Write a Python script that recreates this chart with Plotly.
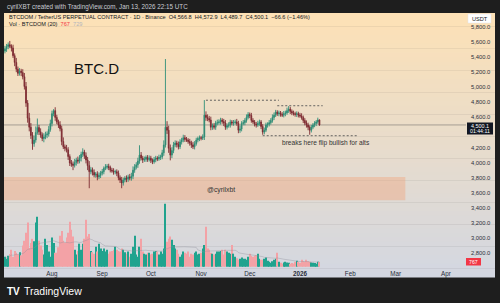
import pandas as pd
import plotly.graph_objects as go

# ---------------- data ----------------
dates = pd.date_range("2025-07-03", "2026-01-13", freq="D")

first_open = 5480
close = [
    5510, 5540, 5565, 5545, 5520, 5420, 5330, 5240, 5185, 5215,
    5195, 5140, 5010, 4790, 4590, 4470, 4360, 4250, 4300, 4400,
    4465, 4410, 4370, 4320, 4340, 4370, 4380, 4440, 4520, 4650,
    4690, 4600, 4540, 4500, 4450, 4280, 4210, 4190, 4170, 4080,
    3995, 3980, 3965, 4000, 4035, 4020, 4060, 4110, 4140, 4090,
    4035, 3960, 3880, 3905, 3870, 3835, 3850, 3810, 3830, 3860,
    3880, 3925, 3940, 3950, 3935, 3900, 3890, 3875, 3880, 3860,
    3800, 3770, 3730, 3770, 3795, 3780, 3810, 3795, 3820, 3900,
    3940, 3970, 4020, 4100, 4060, 4035, 4045, 4070, 4040, 4060,
    4030, 4010, 4040, 4060, 4050, 4070, 4075, 4130, 4235, 4470,
    4430, 4190, 4100, 4160, 4235, 4260, 4240, 4210, 4275, 4300,
    4330, 4310, 4300, 4280, 4260, 4235, 4210, 4250, 4300, 4320,
    4330, 4325, 4340, 4630, 4600, 4585, 4565, 4470, 4490, 4470,
    4525, 4530, 4540, 4565, 4545, 4525, 4470, 4490, 4500, 4540,
    4525, 4530, 4540, 4520, 4430, 4445, 4520, 4530, 4560, 4600,
    4640, 4625, 4560, 4540, 4510, 4500, 4520, 4540, 4480, 4405,
    4430, 4500, 4510, 4530, 4560, 4600, 4630, 4670, 4650, 4660,
    4640, 4630, 4650, 4660, 4690, 4710, 4680, 4660, 4650, 4640,
    4650, 4630, 4620, 4600, 4560, 4525, 4500, 4470, 4430, 4470,
    4500, 4520, 4540, 4566.7, 4500.1,
]
wick_up = [
    40, 35, 30, 50, 25, 45, 30, 60, 35, 40,
    30, 45, 50, 60, 40, 70, 55, 45, 60, 80,
    120, 35, 45, 30, 50, 40, 35, 45, 50, 40,
    20, 45, 35, 30, 50, 40, 55, 30, 45, 35,
    30, 40, 35, 50, 30, 45, 40, 35, 50, 30,
    45, 40, 60, 35, 30, 40, 25, 35, 40, 30,
    35, 25, 40, 30, 35, 25, 30, 35, 25, 30,
    35, 30, 40, 30, 25, 35, 30, 40, 45, 50,
    40, 35, 45, 130, 40, 30, 35, 25, 30, 35,
    30, 25, 35, 30, 25, 35, 30, 40, 60, 905,
    80, 60, 50, 45, 40, 35, 30, 40, 35, 30,
    40, 35, 30, 25, 35, 30, 40, 35, 30, 25,
    30, 25, 35, 200, 50, 40, 35, 45, 30, 35,
    30, 40, 35, 30, 25, 35, 40, 30, 35, 30,
    25, 35, 30, 40, 35, 45, 30, 35, 30, 40,
    30, 25, 35, 30, 25, 30, 35, 30, 25, 30,
    35, 30, 25, 35, 30, 40, 35, 30, 25, 30,
    25, 30, 35, 30, 40, 40, 30, 25, 30, 25,
    30, 25, 30, 35, 25, 30, 35, 30, 25, 30,
    25, 30, 25, 30, 6.2,
]
wick_dn = [
    30, 40, 35, 25, 45, 30, 50, 40, 35, 30,
    45, 35, 40, 50, 60, 55, 45, 80, 40, 35,
    30, 45, 40, 35, 50, 30, 45, 35, 30, 40,
    35, 45, 30, 40, 35, 50, 30, 40, 35, 45,
    40, 35, 65, 30, 40, 35, 30, 45, 35, 40,
    45, 60, 220, 35, 40, 30, 35, 45, 30, 35,
    30, 35, 25, 30, 35, 30, 25, 35, 30, 40,
    35, 40, 70, 35, 30, 40, 35, 30, 35, 40,
    35, 30, 40, 35, 30, 40, 25, 35, 30, 25,
    35, 30, 25, 35, 30, 25, 35, 30, 40, 35,
    50, 60, 70, 40, 35, 30, 40, 35, 30, 35,
    30, 35, 25, 30, 35, 40, 30, 35, 25, 30,
    35, 30, 25, 40, 45, 35, 30, 40, 35, 30,
    35, 30, 25, 35, 30, 40, 35, 30, 25, 35,
    30, 35, 25, 30, 40, 35, 30, 25, 35, 30,
    25, 35, 30, 25, 30, 35, 25, 30, 35, 35,
    30, 25, 35, 30, 25, 30, 35, 25, 30, 35,
    30, 25, 30, 35, 25, 30, 35, 30, 25, 30,
    35, 30, 25, 30, 35, 30, 35, 40, 60, 30,
    25, 30, 35, 25, 10.4,
]
volume = [
    1650, 1300, 1800, 2100, 2800, 1650, 2600, 2300, 2000, 2400,
    1900, 3500, 4300, 5600, 7300, 3100, 3900, 4600, 4200, 7300,
    8250, 4300, 3500, 2800, 2000, 4600, 3600, 2500, 1650, 4800,
    3900, 2300, 2300, 3200, 5100, 5900, 4300, 4000, 4800, 5600,
    7400, 6100, 5000, 2800, 2000, 2600, 3800, 2800, 3800, 4600,
    7750, 5000, 5400, 2600, 2400, 2150, 3300, 2500, 3800, 3000,
    2600, 3000, 2500, 2800, 2150, 2500, 2600, 2800, 3300, 2800,
    2600, 2500, 3000, 2800, 2400, 2150, 2500, 1650, 2150, 3300,
    5100, 2000, 1650, 3300, 4600, 2500, 2150, 2000, 2300, 2300,
    2000, 2150, 2500, 2600, 2500, 2000, 2500, 2150, 3000, 10400,
    4100, 4600, 5000, 4450, 3600, 3000, 2800, 2150, 1650, 2000,
    2500, 2300, 2150, 2500, 1650, 2150, 2000, 2300, 2500, 2000,
    2150, 2300, 3000, 3600, 6600, 3000, 2800, 2300, 2150, 2000,
    2150, 2500, 2500, 2600, 2800, 2000, 2800, 2500, 2300, 2150,
    3600, 2150, 1650, 1400, 1150, 1300, 1500, 1300, 1300, 1150,
    1650, 2150, 1800, 1650, 1800, 1900, 2150, 1300, 1150, 1150,
    1300, 1500, 1000, 830, 660, 900, 1150, 1300, 2300, 800,
    660, 500, 700, 830, 700, 660, 500, 600, 500, 800,
    1000, 800, 660, 1150, 900, 830, 1150, 900, 830, 700,
    660, 600, 500, 800, 767,
]

price_ticks = [5800, 5600, 5400, 5200, 5000, 4800, 4600, 4200, 4000,
               3800, 3600, 3400, 3200, 3000, 2800]
month_ticks = ["2025-08-01", "2025-09-01", "2025-10-01", "2025-11-01", "2025-12-01",
               "2026-01-01", "2026-02-01", "2026-03-01", "2026-04-01"]
month_labels = ["Aug", "Sep", "Oct", "Nov", "Dec", "<b>2026</b>", "Feb", "Mar", "Apr"]

zone_low, zone_high = 3500, 3810
zone_end = "2026-03-07"
top_level = 4828
top_level_2 = 4755
break_level = 4357
last_price = 4500.1

# ---------------- derived ----------------
opens = [first_open] + close[:-1]
highs = [max(o, c) + w for o, c, w in zip(opens, close, wick_up)]
lows = [min(o, c) - w for o, c, w in zip(opens, close, wick_dn)]
vol_colors = ["#20a38e" if c >= o else "#f3a2a6" for o, c in zip(opens, close)]
vol_ma = pd.Series(volume).rolling(20, min_periods=1).mean()

# ---------------- layout geometry (pixels) ----------------
W, H = 500, 303
ML, MR, MT, MB = 4, 34, 13, 35
PW, PH = W - ML - MR, H - MT - MB


def px(x):
    return (x - ML) / PW


def py(y):
    return (H - MB - y) / PH


FONT = "Liberation Sans, Arial, sans-serif"

fig = go.Figure()

fig.add_trace(go.Bar(
    x=dates, y=volume, marker=dict(color=vol_colors, line=dict(width=0)),
    yaxis="y2", hoverinfo="skip", showlegend=False,
))
fig.add_trace(go.Scatter(
    x=dates, y=vol_ma, yaxis="y2", mode="lines",
    line=dict(color="rgba(140,140,150,0.45)", width=0.8),
    hoverinfo="skip", showlegend=False,
))
fig.add_trace(go.Candlestick(
    x=dates, open=opens, high=highs, low=lows, close=close,
    increasing=dict(line=dict(color="#2f8f78", width=0.9), fillcolor="#1e5f4d"),
    decreasing=dict(line=dict(color="#7e2a31", width=0.9), fillcolor="#7a2430"),
    whiskerwidth=0, showlegend=False,
))

# background gradient bands
shapes = []
top_rgb = (253, 225, 182)
bot_rgb = (211, 215, 225)
y_top_px, y_bot_px = 13, 277
n = 60
for k in range(n):
    t = k / (n - 1)
    c = tuple(int(round(a + (b - a) * t)) for a, b in zip(top_rgb, bot_rgb))
    ya = y_top_px + (y_bot_px - y_top_px) * k / n
    yb = y_top_px + (y_bot_px - y_top_px) * (k + 1) / n
    shapes.append(dict(type="rect", xref="paper", yref="paper",
                       x0=px(4), x1=px(495), y0=py(yb + 0.5), y1=py(ya),
                       fillcolor="rgb(%d,%d,%d)" % c, line=dict(width=0), layer="below"))

# support zone
shapes.append(dict(type="rect", xref="x", yref="y", x0="2025-06-01", x1=zone_end,
                   y0=zone_low, y1=zone_high, fillcolor="rgba(240,165,125,0.42)",
                   line=dict(width=0), layer="below"))
# current price line
shapes.append(dict(type="line", xref="paper", yref="y", x0=0, x1=1,
                   y0=last_price, y1=last_price,
                   line=dict(color="rgba(120,115,110,0.75)", width=0.8), layer="below"))
# dashed levels
dash = "2px,2px"
shapes.append(dict(type="line", xref="x", yref="y", x0="2025-11-04", x1="2025-12-19",
                   y0=top_level, y1=top_level, line=dict(color="#555", width=0.9, dash=dash)))
shapes.append(dict(type="line", xref="x", yref="y", x0="2025-12-18", x1="2026-01-15",
                   y0=top_level_2, y1=top_level_2, line=dict(color="#555", width=0.9, dash=dash)))
shapes.append(dict(type="line", xref="x", yref="y", x0="2025-12-09", x1="2026-02-05",
                   y0=break_level, y1=break_level, line=dict(color="#555", width=0.9, dash=dash)))

# price label box
shapes.append(dict(type="rect", xref="paper", yref="paper", x0=px(467), x1=px(493),
                   y0=py(134.5), y1=py(122.5), fillcolor="#131722", line=dict(width=0)))
# volume label box
shapes.append(dict(type="rect", xref="paper", yref="paper", x0=px(466), x1=px(481),
                   y0=py(265.5), y1=py(258), fillcolor="#f23645", line=dict(width=0)))
# USDT box
shapes.append(dict(type="rect", xref="paper", yref="paper", x0=px(468), x1=px(491),
                   y0=py(23), y1=py(14), fillcolor="#ffffff",
                   line=dict(color="#e0e3eb", width=0.5)))

ann = []


def text(x, y, s, size, color="#131722", xanchor="left", bold=False, family=FONT):
    ann.append(dict(xref="paper", yref="paper", x=px(x), y=py(y), text=s,
                    showarrow=False, xanchor=xanchor, yanchor="middle",
                    font=dict(size=size, color=color, family=family)))


text(5, 6.5, "cyrilXBT created with TradingView.com, Jan 13, 2026 22:15 UTC", 6.3, "#c9ccd4")
text(7, 17, "BTCDOM / TetherUS PERPETUAL CONTRACT · 1D · Binance  O4,566.8  H4,572.9  "
            "L4,489.7  C4,500.1  −66.6 (−1.46%)", 5.6)
text(7, 24, "Vol · BTCDOM (20)  <span style='color:#f23645'>767</span>  "
            "<span style='color:#b2b5be'>729</span>", 5.6)
text(479.5, 18.5, "USDT", 5.6, xanchor="center")
text(480, 126.3, "4,500.1", 5.4, "#ffffff", xanchor="center")
text(480, 131.3, "01:44:11", 5.2, "#ffffff", xanchor="center")
text(473.5, 262, "767", 5.2, "#ffffff", xanchor="center")
text(96, 68, "BTC.D", 15, "#111111", xanchor="center")
text(221, 190, "@cyrilxbt", 6.8, "#333333", xanchor="center")
text(280, 142.5, "breaks here flip bullish for alts", 6.6, "#333333")
text(5, 291, "<b>TV</b>", 10, "#ffffff")
text(22, 291, "TradingView", 10.5, "#ffffff")

fig.update_layout(
    width=W, height=H,
    margin=dict(l=ML, r=MR, t=MT, b=MB, pad=0),
    paper_bgcolor="#1e1e1e", plot_bgcolor="rgba(0,0,0,0)",
    shapes=shapes, annotations=ann, bargap=0.35,
    font=dict(family=FONT, color="#131722"),
    xaxis=dict(type="date", range=["2025-07-02 10:00", "2026-04-13 10:00"],
               tickvals=month_ticks, ticktext=month_labels, showgrid=False,
               zeroline=False, showline=False, ticks="", rangeslider=dict(visible=False),
               tickfont=dict(size=6.3, color="#2a2e39", family=FONT), ticklabelstandoff=1),
    yaxis=dict(range=[2601, 5986], side="right", tickvals=price_ticks,
               ticktext=[f"{v:,.1f}" for v in price_ticks], showgrid=False,
               zeroline=False, showline=False, ticks="",
               tickfont=dict(size=5.8, color="#2a2e39", family=FONT), ticklabelstandoff=4),
    yaxis2=dict(range=[-215, 41860], overlaying="y", visible=False),
    hovermode=False,
)

fig.write_html("out.html", config=dict(displayModeBar=False))
